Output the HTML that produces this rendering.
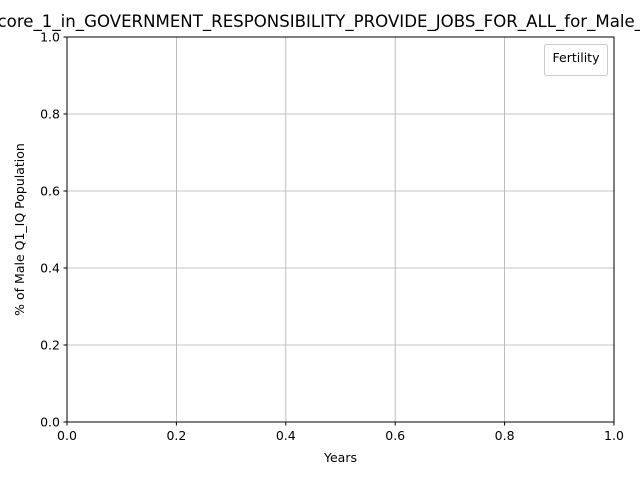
<!DOCTYPE html>
<html><head><meta charset="utf-8"><style>
body{margin:0;background:#fff;}
svg{display:block;font-family:"DejaVu Sans","Liberation Sans",sans-serif;}
</style></head><body>
<svg width="640" height="480">
<rect x="0" y="0" width="640" height="480" fill="#fff"/>
<text x="-13" y="27" font-size="16.5" textLength="656" lengthAdjust="spacingAndGlyphs">Score_1_in_GOVERNMENT_RESPONSIBILITY_PROVIDE_JOBS_FOR_ALL_for_Male_</text>
<g id="grid"></g>
<rect x="67" y="37" width="547" height="385" fill="none" stroke="#000" stroke-width="1"/>
<g id="ticks"></g>
<text x="340.5" y="462" font-size="12.5" text-anchor="middle">Years</text>
<text transform="translate(24,229.5) rotate(-90)" font-size="12.5" text-anchor="middle">% of Male Q1_IQ Population</text>
<g>
<rect x="544.5" y="44.5" width="63" height="31" rx="2" fill="#fff" stroke="#ccc"/>
<text x="576" y="62" font-size="12.5" text-anchor="middle">Fertility</text>
</g>
</svg>
<script>
const xTicks=["0.0","0.2","0.4","0.6","0.8","1.0"];
const yTicks=["0.0","0.2","0.4","0.6","0.8","1.0"];
const X0=67,X1=614,Y0=422,Y1=37;
const ns="http://www.w3.org/2000/svg";
const g=document.getElementById('grid'),t=document.getElementById('ticks');
function mk(tag,a,p){const e=document.createElementNS(ns,tag);for(const k in a)e.setAttribute(k,a[k]);p.appendChild(e);return e;}
xTicks.forEach((v,i)=>{const x=X0+(X1-X0)*parseFloat(v);
 const gl=mk('line',{x1:x,x2:x,y1:Y1,y2:Y0,stroke:'#b0b0b0','stroke-width':0.8},g);
 
 
 mk('line',{x1:x,x2:x,y1:Y0,y2:Y0+3.5,stroke:'#000'},t);
 const tx=mk('text',{x:x,y:Y0+18,'font-size':12.5,'text-anchor':'middle'},t);tx.textContent=v;
 
 
});
yTicks.forEach((v,i)=>{const y=Y0-(Y0-Y1)*parseFloat(v);
 const gl=mk('line',{x1:X0,x2:X1,y1:y,y2:y,stroke:'#b0b0b0','stroke-width':0.8},g);
 
 
 mk('line',{x1:X0-3.5,x2:X0,y1:y,y2:y,stroke:'#000'},t);
 const tx=mk('text',{x:X0-7,y:y+4.5,'font-size':12.5,'text-anchor':'end'},t);tx.textContent=v;
 
 
});
</script>
</body></html>
